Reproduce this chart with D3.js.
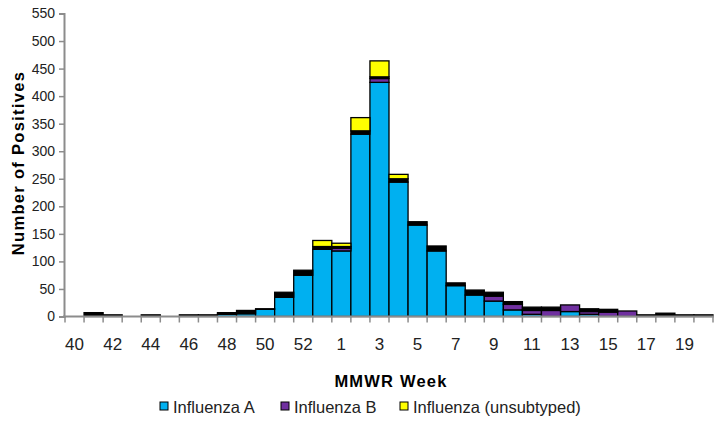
<!DOCTYPE html>
<html>
<head>
<meta charset="utf-8">
<script src="https://cdn.jsdelivr.net/npm/d3@7"></script>
<style>
  html, body { margin: 0; padding: 0; background: #fff; }
  svg { display: block; font-family: "Liberation Sans", Arial, sans-serif; }
</style>
</head>
<body>
<svg id="chart" width="719" height="427"></svg>
<script>
// MMWR weeks of the season (2008 has a week 53)
const weeks = [40, 41, 42, 43, 44, 45, 46, 47, 48, 49, 50, 51, 52, 53,
               1, 2, 3, 4, 5, 6, 7, 8, 9, 10, 11, 12, 13, 14, 15, 16, 17, 18, 19, 20];

// Positive specimens per week, by type
const influenzaA   = [0, 0, 0, 0, 0, 0, 0, 0, 4, 5, 13, 35, 75, 122,
                      119, 331, 425, 244, 166, 119, 56, 39, 28, 12, 4, 0, 9, 4, 0, 0, 0, 0, 0, 0];
const influenzaB   = [0, 0, 0, 0, 0, 0, 0, 0, 0, 0, 0, 0, 0, 0,
                      5, 0, 7, 0, 0, 0, 0, 0, 9, 10, 7, 11, 12, 5, 8, 10, 0, 0, 0, 0];
const otherTyped   = [0, 7, 3, 0, 3, 0, 3, 3, 3, 6, 1, 9, 9, 5,
                      3, 6, 3, 6, 6, 9, 5, 9, 7, 5, 6, 6, 0, 5, 5, 0, 3, 6, 3, 3];
const unsubtyped   = [0, 0, 0, 0, 0, 0, 0, 0, 0, 0, 0, 0, 0, 11,
                      6, 24, 29, 8, 0, 0, 0, 0, 0, 0, 0, 0, 0, 0, 0, 0, 0, 0, 0, 0];

const yTicks = [0, 50, 100, 150, 200, 250, 300, 350, 400, 450, 500, 550];
const xTickLabels = [40, 42, 44, 46, 48, 50, 52, 1, 3, 5, 7, 9, 11, 13, 15, 17, 19];

const seriesKeys = ["A", "B", "other", "unsub"];
const seriesColors = { A: "#00B0F0", B: "#7030A0", other: "#000000", unsub: "#FFFF00" };
const legendItems = [
  { key: "A", label: "Influenza A" },
  { key: "B", label: "Influenza B" },
  { key: "unsub", label: "Influenza (unsubtyped)" }
];

(function draw() {
  const rows = weeks.map((w, i) => ({
    idx: i, week: w,
    A: influenzaA[i], B: influenzaB[i], other: otherTyped[i], unsub: unsubtyped[i]
  }));

  const svg = d3.select("#chart");
  const plotLeft = 65, plotRight = 713, plotTop = 13.5, plotBottom = 316.5;

  const x = d3.scaleBand().domain(rows.map(d => d.idx)).range([plotLeft, plotRight]).padding(0);
  const y = d3.scaleLinear().domain([0, 550]).range([plotBottom, plotTop]);

  const stacked = d3.stack().keys(seriesKeys)(rows);

  // Stacked bars
  svg.append("g").selectAll("g")
    .data(stacked).join("g")
    .attr("fill", s => seriesColors[s.key])
    .selectAll("rect")
    .data(s => s.filter(d => d[1] - d[0] > 0))
    .join("rect")
    .attr("x", d => x(d.data.idx))
    .attr("width", x.bandwidth())
    .attr("y", d => y(d[1]))
    .attr("height", d => y(d[0]) - y(d[1]))
    .attr("stroke", "#000")
    .attr("stroke-width", 1.3);

  const axisColor = "#8c8c8c";

  // Y axis
  const yAxis = svg.append("g")
    .attr("transform", `translate(${plotLeft - 1},0)`)
    .call(d3.axisLeft(y).tickValues(yTicks).tickSize(5).tickPadding(4));
  yAxis.select(".domain").attr("stroke", axisColor).attr("stroke-width", 2);
  yAxis.selectAll(".tick line").attr("stroke", axisColor).attr("stroke-width", 1.5);
  yAxis.selectAll("text").attr("font-size", 14).attr("fill", "#222")
    .attr("font-family", "Liberation Sans, Arial, sans-serif");

  // X axis: ticks at category boundaries, labels every other week
  const xg = svg.append("g").attr("transform", `translate(0,${plotBottom})`);
  xg.append("line")
    .attr("x1", plotLeft - 2).attr("x2", plotRight + 1)
    .attr("stroke", axisColor).attr("stroke-width", 2);
  xg.selectAll("line.tk")
    .data(d3.range(weeks.length + 1)).join("line")
    .attr("class", "tk")
    .attr("x1", i => plotLeft + i * x.step()).attr("x2", i => plotLeft + i * x.step())
    .attr("y1", 0).attr("y2", 6)
    .attr("stroke", axisColor).attr("stroke-width", 1.5);
  xg.selectAll("text")
    .data(rows.filter(d => xTickLabels.includes(d.week) && (d.idx % 2 === 0)))
    .join("text")
    .attr("x", d => x(d.idx) + x.bandwidth() / 2)
    .attr("y", 33)
    .attr("text-anchor", "middle")
    .attr("font-size", 17)
    .attr("fill", "#222")
    .text(d => d.week);

  // Axis titles
  svg.append("text")
    .attr("transform", `translate(24,${(plotTop + plotBottom) / 2 - 2}) rotate(-90)`)
    .attr("text-anchor", "middle")
    .attr("font-size", 16.5).attr("font-weight", "bold")
    .attr("letter-spacing", 1.3)
    .text("Number of Positives");

  svg.append("text")
    .attr("x", 391).attr("y", 387)
    .attr("text-anchor", "middle")
    .attr("font-size", 16.5).attr("font-weight", "bold")
    .attr("letter-spacing", 1.2)
    .text("MMWR Week");

  // Legend
  const legendX = [160, 281, 400];
  const lg = svg.append("g").selectAll("g")
    .data(legendItems).join("g")
    .attr("transform", (d, i) => `translate(${legendX[i]},413)`);
  lg.append("rect")
    .attr("x", 0).attr("y", -11).attr("width", 8).attr("height", 8)
    .attr("fill", d => seriesColors[d.key])
    .attr("stroke", "#000").attr("stroke-width", 1);
  lg.append("text")
    .attr("x", 13).attr("y", 0)
    .attr("font-size", 16.5).attr("fill", "#222")
    .text(d => d.label);
})();
</script>
</body>
</html>
